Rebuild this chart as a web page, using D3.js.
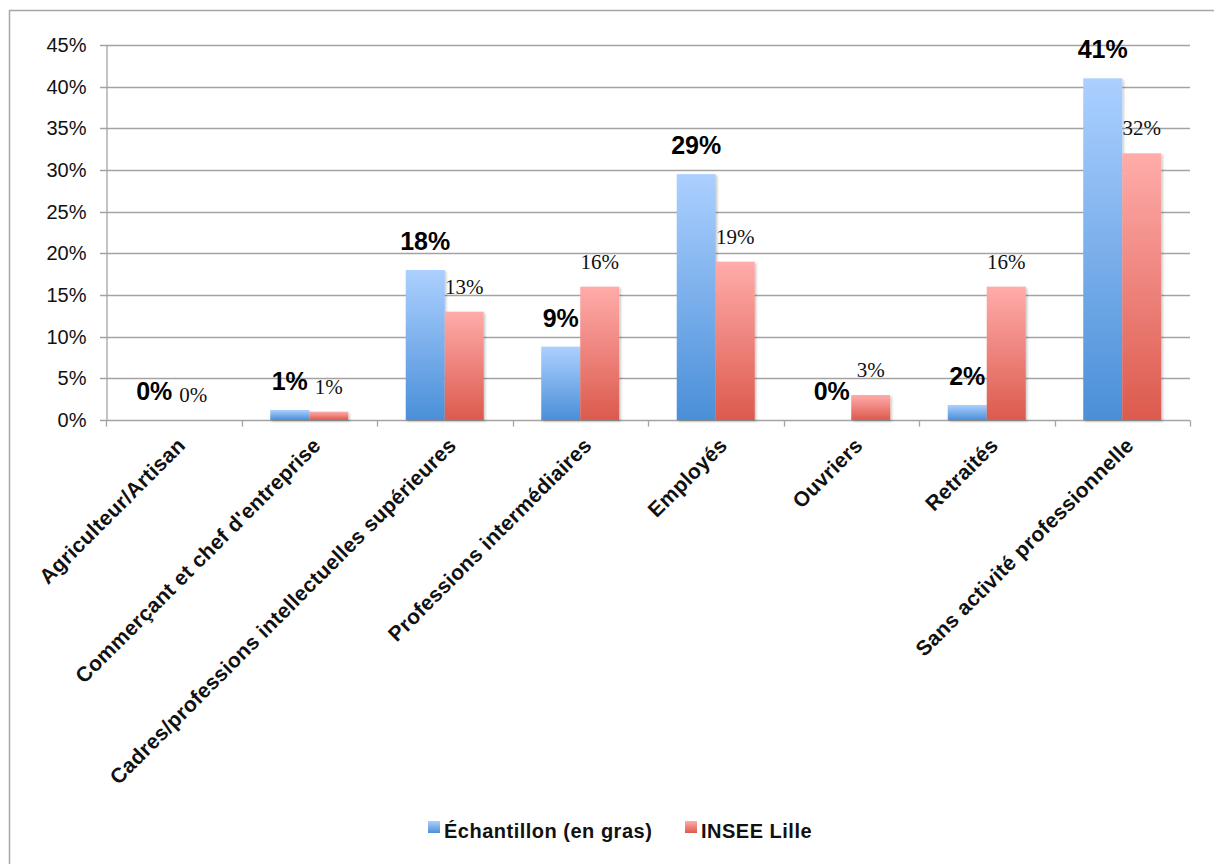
<!DOCTYPE html>
<html>
<head>
<meta charset="utf-8">
<script src="https://cdn.jsdelivr.net/npm/d3@7"></script>
<style>
  html, body { margin: 0; padding: 0; background: #fff; }
  svg { display: block; }
</style>
</head>
<body>
<svg id="chart" width="1214" height="864"></svg>
<script>
// Catégories socio-professionnelles
const categories = [
  "Agriculteur/Artisan",
  "Commerçant et chef d'entreprise",
  "Cadres/professions intellectuelles supérieures",
  "Professions intermédiaires",
  "Employés",
  "Ouvriers",
  "Retraités",
  "Sans activité professionnelle"
];
// Parts en %, échantillon et INSEE Lille
const echantillon = [0, 1.2, 18, 8.8, 29.5, 0, 1.8, 41];
const inseeLille  = [0, 1.0, 13, 16, 19, 3, 16, 32];
// Libellés affichés au-dessus des barres
const echantillonLabels = ["0%", "1%", "18%", "9%", "29%", "0%", "2%", "41%"];
const inseeLabels       = ["0%", "1%", "13%", "16%", "19%", "3%", "16%", "32%"];
const seriesNames = ["Échantillon (en gras)", "INSEE Lille"];
const yTicks = [0, 5, 10, 15, 20, 25, 30, 35, 40, 45];

const svg = d3.select("#chart");
const plot = { left: 106, right: 1190, top: 45, bottom: 420 };

// Cadre extérieur (haut et gauche)
svg.append("path")
  .attr("d", "M9.5,864 L9.5,10.5 L1214,10.5")
  .attr("fill", "none")
  .attr("stroke", "#a6a6a6")
  .attr("stroke-width", 1.5);

// Dégradés des barres
const defs = svg.append("defs");
function grad(id, top, bottom) {
  const g = defs.append("linearGradient").attr("id", id)
    .attr("x1", 0).attr("y1", 0).attr("x2", 0).attr("y2", 1);
  g.append("stop").attr("offset", "0%").attr("stop-color", top);
  g.append("stop").attr("offset", "100%").attr("stop-color", bottom);
}
grad("gBlue", "#acd0ff", "#4a8fd8");
grad("gRed", "#ffacaa", "#dc5a4d");
const shadow = defs.append("filter").attr("id", "shadow")
  .attr("x", "-10%").attr("y", "-10%").attr("width", "130%").attr("height", "130%");
shadow.append("feDropShadow").attr("dx", 1.5).attr("dy", 1.5)
  .attr("stdDeviation", 1.2).attr("flood-color", "#000").attr("flood-opacity", 0.22);

const x = d3.scaleBand().domain(categories).range([plot.left, plot.right]).padding(0);
const y = d3.scaleLinear().domain([0, 45]).range([plot.bottom, plot.top]);
const groupW = 78;
const xs = d3.scaleBand().domain([0, 1])
  .range([(x.bandwidth() - groupW) / 2, (x.bandwidth() + groupW) / 2]).padding(0);

// Quadrillage horizontal
svg.append("g").selectAll("line").data(yTicks).join("line")
  .attr("x1", plot.left - 6).attr("x2", plot.right)
  .attr("y1", d => Math.round(y(d)) + 0.5).attr("y2", d => Math.round(y(d)) + 0.5)
  .attr("stroke", "#a3a3a3").attr("stroke-width", 1.3);

// Axe vertical
const yAxis = svg.append("g")
  .attr("transform", `translate(${plot.left + 0.5},0)`)
  .call(d3.axisLeft(y).tickValues(yTicks).tickSize(0).tickPadding(20)
    .tickFormat(d => d + "%"));
yAxis.select(".domain").attr("stroke", "#a3a3a3").attr("stroke-width", 1.3);
yAxis.selectAll("text")
  .attr("font-family", "Liberation Sans, Arial, sans-serif")
  .attr("font-size", 20).attr("fill", "#111");

// Axe horizontal
const xAxis = svg.append("g")
  .attr("transform", `translate(0,${plot.bottom + 0.5})`)
  .call(d3.axisBottom(x).tickSize(0).tickFormat(""));
xAxis.select(".domain").remove();
xAxis.append("g").selectAll("line")
  .data(d3.range(categories.length + 1))
  .join("line")
  .attr("x1", i => Math.round(plot.left + i * x.bandwidth()) + 0.5)
  .attr("x2", i => Math.round(plot.left + i * x.bandwidth()) + 0.5)
  .attr("y1", 0).attr("y2", 6)
  .attr("stroke", "#a3a3a3").attr("stroke-width", 1.3);

// Libellés des catégories, inclinés à 45°
svg.append("g").selectAll("text").data(categories).join("text")
  .attr("transform", d => `translate(${x(d) + x.bandwidth() / 2 + 2},${plot.bottom + 16}) rotate(-45)`)
  .attr("text-anchor", "end")
  .attr("dy", "0.72em")
  .attr("font-family", "Liberation Sans, Arial, sans-serif")
  .attr("font-weight", "bold")
  .attr("font-size", 21)
  .attr("letter-spacing", 0.3)
  .attr("fill", "#111")
  .text(d => d);

// Barres
const series = [
  { values: echantillon, labels: echantillonLabels, fill: "url(#gBlue)" },
  { values: inseeLille, labels: inseeLabels, fill: "url(#gRed)" }
];
series.forEach((s, si) => {
  svg.append("g").attr("filter", "url(#shadow)")
    .selectAll("rect").data(categories).join("rect")
    .attr("x", (d, i) => x(d) + xs(si))
    .attr("width", xs.bandwidth())
    .attr("y", (d, i) => y(s.values[i]))
    .attr("height", (d, i) => y(0) - y(s.values[i]))
    .attr("fill", s.fill);
});

// Étiquettes de valeurs
svg.append("g").selectAll("text").data(categories).join("text")
  .attr("x", (d, i) => x(d) + xs(0) + xs.bandwidth() / 2)
  .attr("y", (d, i) => y(echantillon[i]) - 20)
  .attr("text-anchor", "middle")
  .attr("font-family", "Liberation Sans, Arial, sans-serif")
  .attr("font-weight", "bold")
  .attr("font-size", 25)
  .attr("fill", "#000")
  .text((d, i) => echantillonLabels[i]);

svg.append("g").selectAll("text").data(categories).join("text")
  .attr("x", (d, i) => x(d) + xs(1) + xs.bandwidth() / 2)
  .attr("y", (d, i) => y(inseeLille[i]) - 18)
  .attr("text-anchor", "middle")
  .attr("font-family", "Liberation Serif, Times New Roman, serif")
  .attr("font-size", 21)
  .attr("fill", "#111")
  .text((d, i) => inseeLabels[i]);

// Légende
const legend = svg.append("g");
const legendX = [428, 685];
seriesNames.forEach((name, i) => {
  legend.append("rect")
    .attr("x", legendX[i]).attr("y", 821)
    .attr("width", 12).attr("height", 12)
    .attr("fill", i === 0 ? "url(#gBlue)" : "url(#gRed)");
  legend.append("text")
    .attr("x", legendX[i] + 16).attr("y", 838)
    .attr("font-family", "Liberation Sans, Arial, sans-serif")
    .attr("font-weight", "bold")
    .attr("font-size", 20)
    .attr("letter-spacing", 0.5)
    .attr("fill", "#111")
    .text(name);
});
</script>
</body>
</html>
